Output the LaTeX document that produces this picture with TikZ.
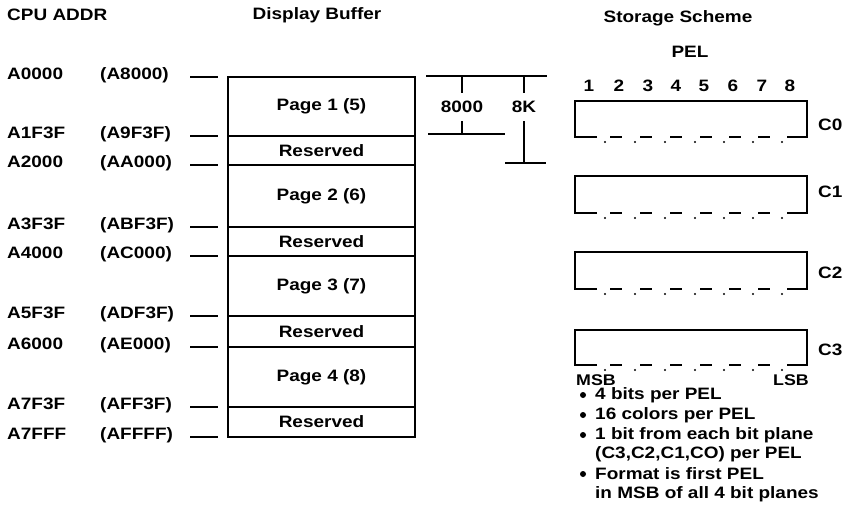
\documentclass[tikz,border=0pt]{standalone}
\usepackage{fontspec}
\setmainfont[FakeStretch=1.15]{Liberation Sans}
\begin{document}
\begin{tikzpicture}[x=1pt,y=-1pt,
  txt/.style={font=\fontsize{16.5}{18}\selectfont\bfseries, inner sep=0pt},
  sml/.style={font=\fontsize{15.5}{17}\selectfont\bfseries, inner sep=0pt},
  region/.style={draw, line width=1.6pt, minimum width=187pt, font=\fontsize{16.5}{18}\selectfont\bfseries, inner sep=0pt},
  ln/.style={line width=1.6pt},
  tick/.style={line width=1.3pt}]
\useasboundingbox (0,0) rectangle (855,525);
% headers
\node[txt, anchor=west] (hcpu) at (7,15) {CPU ADDR};
\node[txt] (hdb) at (317,15) {Display Buffer};
\node[txt] (hss) at (678,18) {Storage Scheme};
\node[txt] (hpel) at (690,52) {PEL};
% addresses and ticks
\foreach \yy/\a/\b [count=\i] in {77/A0000/A8000,136/A1F3F/A9F3F,165/A2000/AA000,227/A3F3F/ABF3F,256/A4000/AC000,316/A5F3F/ADF3F,347/A6000/AE000,407/A7F3F/AFF3F,437/A7FFF/AFFFF}{
  \node[txt, anchor=west] (a\i) at (7,\yy-3) {\a};
  \node[txt, anchor=west] (b\i) at (100,\yy-2) {(\b)};
  \coordinate (tl\i) at (190,\yy);
  \coordinate (tr\i) at (218,\yy);
  \draw[tick] (tl\i) -- (tr\i);
}
% display buffer
\node[region, minimum height=59pt] (pg1) at (321.5,106.5) {Page 1 (5)};
\node[region, minimum height=29pt] (rs1) at (321.5,150.5) {Reserved};
\node[region, minimum height=62pt] (pg2) at (321.5,196) {Page 2 (6)};
\node[region, minimum height=29pt] (rs2) at (321.5,241.5) {Reserved};
\node[region, minimum height=60pt] (pg3) at (321.5,286) {Page 3 (7)};
\node[region, minimum height=31pt] (rs3) at (321.5,331.5) {Reserved};
\node[region, minimum height=60pt] (pg4) at (321.5,377) {Page 4 (8)};
\node[region, minimum height=30pt] (rs4) at (321.5,422) {Reserved};
% size markers
\coordinate (hl) at (426,76);
\coordinate (hr) at (547,76);
\draw[tick] (hl) -- (hr);
\node[txt, inner ysep=8pt] (n8000) at (462,107) {8000};
\node[txt, inner ysep=8pt] (n8k) at (524,107) {8K};
\coordinate (t8000) at (462,76);
\coordinate (b8000) at (462,134);
\coordinate (t8k) at (524,76);
\coordinate (b8k) at (524,163);
\draw[tick] (t8000) -- (n8000);
\draw[tick] (n8000) -- (b8000);
\draw[tick] (t8k) -- (n8k);
\draw[tick] (n8k) -- (b8k);
\coordinate (l8000a) at (428,134);
\coordinate (l8000b) at (505,134);
\coordinate (l8ka) at (505,163);
\coordinate (l8kb) at (546,163);
\draw[tick] (l8000a) -- (l8000b);
\draw[tick] (l8ka) -- (l8kb);
% PEL numbers
\foreach \xx [count=\i] in {589,619,648,676,704,733,762,790}{
  \node[txt] (pel\i) at (\xx,86) {\i};
}
% bit planes
\foreach \tp/\bt/\ly [count=\k from 0] in {101/137/125,176/213/192,252/289/273,330/365/350}{
  \draw[ln] (597,\bt) -- (575,\bt) -- (575,\tp) -- (807,\tp) -- (807,\bt) -- (787,\bt);
  \foreach \s in {610,640,670,700,729,758}{
    \draw[ln] (\s,\bt) -- (\s+12,\bt);
  }
  \foreach \d in {605,635,665,695,724,753,782}{
    \fill (\d,\bt+5) circle (1.1pt);
  }
  \node[txt, anchor=west] (c\k) at (818,\ly) {C\k};
}
\node[sml, anchor=west] (msb) at (576,380) {MSB};
\node[sml, anchor=east] (lsb) at (809,380) {LSB};
% notes
\foreach \yy/\t in {395/4 bits per PEL,415/16 colors per PEL,435/1 bit from each bit plane,454/{(C3,C2,C1,CO) per PEL},474/Format is first PEL,494/in MSB of all 4 bit planes}{
  \node[txt, anchor=west] at (595,\yy) {\t};
}
\foreach \yy [count=\i] in {395,415,435,474}{
  \fill (583,\yy) circle (3pt);
}
\end{tikzpicture}
\end{document}
